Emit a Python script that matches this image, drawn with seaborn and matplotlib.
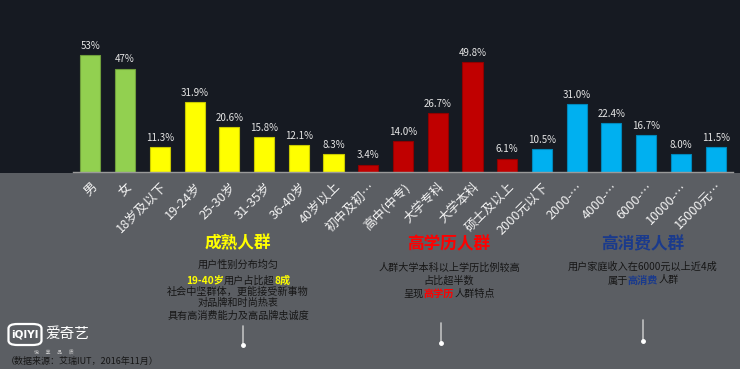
import matplotlib
matplotlib.use("Agg")
import matplotlib.pyplot as plt
import seaborn as sns
import pandas as pd
from matplotlib.patches import Rectangle, FancyBboxPatch
from matplotlib.lines import Line2D

# ---------------- data ----------------
categories = ["男", "女", "18岁及以下", "19-24岁", "25-30岁", "31-35岁", "36-40岁", "40岁以上",
              "初中及初…", "高中(中专)", "大学专科", "大学本科", "硕士及以上",
              "2000元以下", "2000-…", "4000-…", "6000-…", "10000-…", "15000元…"]
values = [53, 47, 11.3, 31.9, 20.6, 15.8, 12.1, 8.3,
          3.4, 14.0, 26.7, 49.8, 6.1,
          10.5, 31.0, 22.4, 16.7, 8.0, 11.5]
groups = ["性别", "性别", "年龄", "年龄", "年龄", "年龄", "年龄", "年龄",
          "学历", "学历", "学历", "学历", "学历",
          "收入", "收入", "收入", "收入", "收入", "收入"]
group_order = ["性别", "年龄", "学历", "收入"]
group_colors = {"性别": "#92d050", "年龄": "#ffff00", "学历": "#c00000", "收入": "#00b0f0"}
group_edges = {"性别": "#6f9e3c", "年龄": "#c8c800", "学历": "#900000", "收入": "#0088bb"}
group_decimals = {"性别": 0, "年龄": 1, "学历": 1, "收入": 1}

df = pd.DataFrame({"category": categories, "value": values, "group": groups})

# ---------------- figure ----------------
W, H = 740, 369
sns.set_style("white")
plt.rcParams["font.family"] = ["Noto Sans CJK SC", "DejaVu Sans"]
plt.rcParams["axes.unicode_minus"] = False

GREY = "#5b5e63"
DARK = "#161a22"
fig = plt.figure(figsize=(W / 100, H / 100), dpi=100, facecolor=GREY)
fig.patches.append(Rectangle((0, 1 - 173 / H), 1, 173 / H, transform=fig.transFigure,
                             facecolor=DARK, edgecolor="none", zorder=-10))

ax = fig.add_axes([73 / W, 1 - 172 / H, 660 / W, 132 / H])
ax.set_facecolor("none")
ax.set_zorder(5)

sns.barplot(data=df, x="category", y="value", hue="group", hue_order=group_order,
            palette=group_colors, dodge=False, width=0.58, legend=False, ax=ax,
            order=categories, saturation=1)

for cont, g in zip(ax.containers, group_order):
    for p in cont:
        p.set_edgecolor(group_edges[g])
        p.set_linewidth(0.8)
    d = group_decimals[g]
    labels = [f"{v:.{d}f}%" for v in cont.datavalues]
    ax.bar_label(cont, labels=labels, padding=3, fontsize=7, color="#e6e6e6")

ax.set_xlim(-0.5, 18.5)
ax.set_ylim(0, 60)
ax.set_xlabel("")
ax.set_ylabel("")
ax.set_yticks([])
for s in ["top", "right", "left"]:
    ax.spines[s].set_visible(False)
ax.spines["bottom"].set_color("#9a9a9a")
ax.spines["bottom"].set_linewidth(1.0)
ax.tick_params(axis="x", length=0, pad=6)
ax.set_xticks(range(len(categories)))
ax.set_xticklabels(categories, rotation=45, ha="right", rotation_mode="anchor",
                   fontsize=9.2, color="#f2f2f2")


def px_text(x, y, s, **kw):
    kw.setdefault("ha", "center")
    kw.setdefault("va", "center")
    return fig.text(x / W, 1 - y / H, s, **kw)


renderer = fig.canvas.get_renderer()


def rich_line(cx, cy, parts, size):
    texts, widths = [], []
    for s, color, weight in parts:
        t = fig.text(0, 0, s, fontsize=size, color=color, fontweight=weight,
                     ha="left", va="center")
        widths.append(t.get_window_extent(renderer).width)
        texts.append(t)
    x = cx - sum(widths) / 2
    for t, w in zip(texts, widths):
        t.set_position((x / W, 1 - cy / H))
        x += w


BODY = "#161616"
YEL = "#ffff00"
RED = "#ff0000"
BLUE = "#1a3a8c"
BS = 7.3

# group 1
px_text(238, 243, "成熟人群", fontsize=12, fontweight="bold", color=YEL)
px_text(238, 265, "用户性别分布均匀", fontsize=BS, color=BODY)
rich_line(238, 280.5, [("19-40岁", YEL, "bold"), ("用户占比超", BODY, "normal"),
                       ("8成", YEL, "bold")], BS)
px_text(238, 292, "社会中坚群体，更能接受新事物", fontsize=BS, color=BODY)
px_text(238, 303, "对品牌和时尚热衷", fontsize=BS, color=BODY)
px_text(238, 316, "具有高消费能力及高品牌忠诚度", fontsize=BS, color=BODY)

# group 2
px_text(449, 244.5, "高学历人群", fontsize=12, fontweight="bold", color=RED)
px_text(449, 268, "人群大学本科以上学历比例较高", fontsize=BS, color=BODY)
px_text(449, 281, "占比超半数", fontsize=BS, color=BODY)
rich_line(449, 293.5, [("呈现", BODY, "normal"), ("高学历", RED, "bold"),
                       ("人群特点", BODY, "normal")], BS)

# group 3
px_text(643, 244.5, "高消费人群", fontsize=12, fontweight="bold", color=BLUE)
px_text(643, 266.5, "用户家庭收入在6000元以上近4成", fontsize=BS, color=BODY)
rich_line(643, 280.5, [("属于", BODY, "normal"), ("高消费", BLUE, "bold"),
                       ("人群", BODY, "normal")], BS)

# small vertical markers
for x, y0, y1 in [(242.5, 326, 345), (440.5, 323, 343), (642.5, 320, 341)]:
    fig.lines.append(Line2D([x / W, x / W], [1 - y0 / H, 1 - y1 / H], transform=fig.transFigure,
                            color="#d8d8d8", lw=1.2, alpha=0.8))
    fig.lines.append(Line2D([x / W], [1 - y1 / H], transform=fig.transFigure, marker="o",
                            markersize=2.5, color="white", lw=0))

# logo
fig.patches.append(FancyBboxPatch((8.5 / W, 1 - 345 / H), 33 / W, 21 / H,
                                  boxstyle="round,pad=0,rounding_size=0.012",
                                  transform=fig.transFigure, facecolor="none",
                                  edgecolor="white", lw=1.6))
px_text(25, 334.5, "iQIYI", fontsize=7.5, fontweight="bold", color="white",
        family=["DejaVu Sans"])
px_text(67, 334, "爱奇艺", fontsize=10.5, color="white")
px_text(54, 352.5, "悦      享      品      质", fontsize=3.5, color="#cfcfcf")
px_text(6, 361, "（数据来源：艾瑞IUT，2016年11月）", fontsize=6.5, color=BODY, ha="left")

fig.savefig("out.png", dpi=100, facecolor=GREY)
